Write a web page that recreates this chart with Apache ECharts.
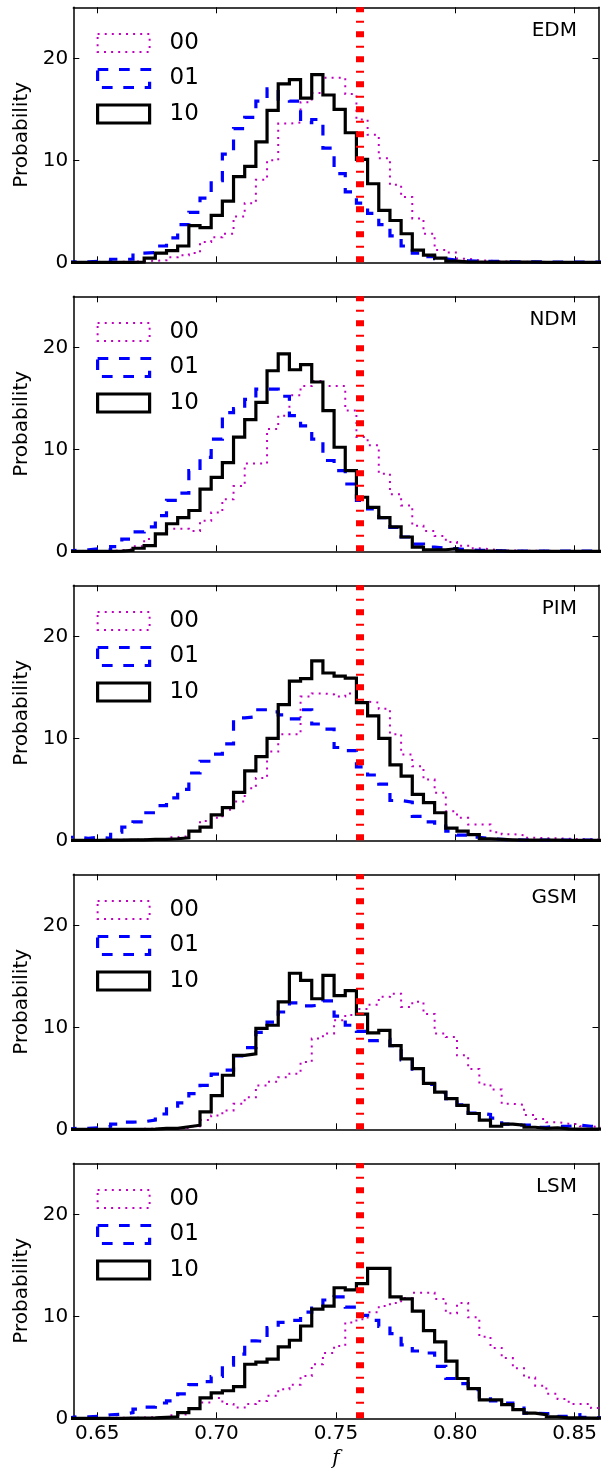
<!DOCTYPE html>
<html><head><meta charset="utf-8">
<script src="https://cdn.jsdelivr.net/npm/echarts@6.0.0/dist/echarts.min.js"></script>
<style>html,body{margin:0;padding:0;background:#fff}#c{width:607px;height:1473px}</style>
</head><body><div id="c"></div>
<script>
// ---- data ----
const PANELS = ['EDM', 'NDM', 'PIM', 'GSM', 'LSM'];
const SERIES_NAMES = ['00', '01', '10'];
const BIN_START = 0.63692;   // left edge of first histogram bin
const BIN_WIDTH = 0.00468;   // histogram bin width
const X_TICKS = [0.65, 0.70, 0.75, 0.80, 0.85];
const Y_TICKS = [0, 10, 20];
const REF_F = 0.76;

const EDM_00 = [0,0,0.02,0.02,0.05,0.05,0.1,0.15,0.2,0.5,0.7,0.9,2.0,2.45,2.8,4.5,5.8,8.1,10.0,13.6,13.7,15.7,16.6,18.1,18.1,16.5,14.0,12.5,10.2,7.6,6.4,4.3,2.8,1.2,0.95,0.35,0.2,0.15,0.1,0.05,0.05,0.03,0.03,0.03,0.02,0.02,0.02,0.02];
const EDM_01 = [0.05,0.05,0.1,0.1,0.3,0.3,0.9,0.95,1.6,2.4,3.7,4.9,6.3,8.0,10.6,13.1,14.2,15.8,17.0,16.0,15.8,13.7,14.0,11.2,8.7,6.9,5.8,4.8,3.7,2.6,1.6,0.9,0.55,0.35,0.2,0.15,0.1,0.1,0.08,0.05,0.05,0.05,0.03,0.02,0.02,0.02,0.02,0.02];
const EDM_10 = [0,0,0,0,0,0,0.03,0.4,0.9,1.15,1.6,3.6,3.4,4.6,6.0,8.4,9.4,11.8,14.9,17.5,17.9,16.1,18.4,16.4,15.0,12.7,10.1,7.7,5.1,4.1,2.8,1.2,0.7,0.4,0.12,0.05,0.03,0.02,0.02,0.02,0.02,0.02,0,0,0,0,0,0];

const NDM_00 = [0.02,0.02,0.02,0.02,0.1,0.2,0.5,1.2,1.7,2.2,2.2,2.0,3.0,3.8,5.1,6.4,8.6,8.6,12.0,13.3,15.3,16.2,16.7,16.2,16.2,13.8,11.2,10.4,7.6,5.6,4.5,2.5,2.0,1.5,0.9,0.55,0.3,0.2,0.1,0.08,0.05,0.05,0.05,0.03,0.03,0.03,0.03,0.03];
const NDM_01 = [0.1,0.15,0.25,0.15,0.45,1.2,1.9,2.4,3.5,5.0,5.7,7.9,9.2,11.0,13.6,14.0,14.9,15.9,15.9,15.2,13.3,12.3,11.0,8.9,7.9,6.6,5.0,4.15,3.3,2.35,1.4,0.7,0.4,0.3,0.25,0.15,0.1,0.08,0.05,0.03,0.03,0.03,0.02,0.02,0.02,0.02,0.02,0.02];
const NDM_10 = [0,0,0,0,0.02,0.1,0.3,0.55,1.7,2.7,3.3,4.0,6.1,7.25,8.7,11.2,12.9,14.6,17.7,19.35,17.8,18.3,16.6,13.8,10.2,7.9,5.3,4.3,3.3,2.4,1.4,0.4,0.15,0.15,0.25,0.05,0.02,0.02,0.02,0,0,0,0,0,0,0,0,0];

const PIM_00 = [0,0,0,0.03,0.05,0.05,0.08,0.1,0.1,0.3,0.4,0.9,1.9,2.2,3.0,3.8,5.1,6.1,8.7,10.4,10.4,14.1,14.4,14.3,14.1,14.4,13.6,13.5,12.9,10.4,8.4,7.25,5.95,4.65,2.85,2.2,1.55,1.55,0.8,0.6,0.5,0.25,0.2,0.2,0.15,0.1,0.1,0.05];
const PIM_01 = [0.3,0.2,0.3,0.2,0.8,1.3,1.8,2.7,3.4,4.15,5.0,6.6,7.75,8.45,9.45,12.0,12.1,12.8,12.6,12.3,11.9,12.8,11.4,10.9,9.1,8.8,7.2,6.4,5.5,3.9,3.75,2.35,1.8,1.4,0.9,0.5,0.3,0.15,0.1,0.05,0.03,0.03,0.03,0.02,0.02,0.02,0.02,0.02];
const PIM_10 = [0,0,0,0.02,0.02,0.05,0.05,0.1,0.1,0.15,0.25,0.9,1.3,2.5,3.2,4.7,6.8,8.2,10.0,13.3,15.6,15.85,17.6,16.4,16.1,15.9,13.5,12.2,10.0,7.4,6.3,4.5,3.7,2.7,1.2,0.9,0.55,0.15,0.1,0.05,0.02,0.02,0.02,0.02,0,0,0,0];

const GSM_00 = [0.02,0.02,0.02,0.02,0.03,0.03,0.05,0.05,0.05,0.05,0.1,0.3,0.9,1.35,1.85,2.5,3.15,4.3,4.65,5.1,5.45,6.6,8.9,9.4,10.7,11.2,11.8,12.2,13.0,13.3,12.0,12.5,11.3,9.4,9.05,7.25,5.9,4.4,3.9,2.5,2.4,1.4,1.0,0.7,0.55,0.5,0.3,0.2];
const GSM_01 = [0.1,0.1,0.15,0.3,0.5,0.7,0.75,0.9,1.5,2.0,2.6,3.5,4.3,5.4,5.8,7.2,8.0,9.5,10.5,11.5,12.4,12.1,12.2,12.6,11.1,10.2,9.6,8.7,8.8,8.2,6.8,5.9,4.4,3.6,3.0,2.4,1.6,1.45,1.1,0.5,0.4,0.4,0.2,0.3,0.3,0.4,0.3,0.2];
const GSM_10 = [0,0,0,0,0,0,0,0.02,0.1,0.1,0.25,0.4,1.7,3.3,5.3,7.25,7.4,9.9,10.2,12.5,15.3,14.6,12.8,15.1,13.1,13.6,11.3,9.45,9.7,8.2,6.9,5.95,4.5,3.65,3.0,2.35,1.55,0.9,0.3,0.5,0.4,0.2,0.1,0.15,0.05,0.02,0.02,0.02];

const LSM_00 = [0.02,0.02,0.03,0.05,0.05,0.05,0.08,0.1,0.1,0.3,0.4,0.9,1.55,2.0,1.4,1.05,1.4,1.7,2.2,2.85,3.3,4.15,5.3,6.4,7.1,9.4,9.7,10.4,11.0,11.3,11.8,12.3,12.3,11.7,10.3,11.3,9.9,8.0,6.9,5.9,4.9,4.0,3.2,2.4,1.9,1.4,1.4,1.0];
const LSM_01 = [0.15,0.15,0.2,0.35,0.4,0.55,0.9,1.1,1.5,1.7,2.4,3.3,3.6,4.1,5.2,6.3,7.6,7.5,8.9,9.4,9.6,10.4,10.8,11.6,11.9,10.9,10.1,9.6,9.0,8.3,7.2,6.6,6.4,5.1,3.9,3.4,2.8,2.1,1.7,1.5,1.0,0.5,0.45,0.5,0.2,0.35,0.1,0.05];
const LSM_10 = [0,0,0,0,0,0.02,0.03,0.05,0.1,0.15,0.55,0.95,2.0,2.5,2.7,3.1,5.3,5.5,5.8,7.0,7.65,9.05,10.7,11.0,12.8,12.6,13.2,14.7,14.7,11.9,11.7,10.5,8.6,7.5,5.6,3.9,2.9,1.8,1.8,1.35,0.85,0.5,0.35,0.15,0.05,0.05,0.03,0.02];

const PANEL_DATA = {
  EDM: [EDM_00, EDM_01, EDM_10],
  NDM: [NDM_00, NDM_01, NDM_10],
  PIM: [PIM_00, PIM_01, PIM_10],
  GSM: [GSM_00, GSM_01, GSM_10],
  LSM: [LSM_00, LSM_01, LSM_10]
};

// ---- styles / layout ----
const STYLE = {
  '00': { color: '#bf00bf', width: 2, type: [2, 5.1] },
  '01': { color: '#0000ff', width: 3.2, type: [10.7, 10.7] },
  '10': { color: '#000000', width: 3.2, type: 'solid' }
};
const FONT = 'DejaVu Sans';
const GRID_LEFT = 73.3, GRID_W = 525.2, GRID_TOP0 = 7.3, GRID_H = 255, PANEL_STEP = 289;

function stepPoints(counts) {
  const pts = [[BIN_START, 0]];
  counts.forEach((c, i) => {
    const x0 = BIN_START + i * BIN_WIDTH;
    pts.push([x0, c], [x0 + BIN_WIDTH, c]);
  });
  pts.push([BIN_START + counts.length * BIN_WIDTH, 0]);
  return pts;
}

const axisLine = { show: true, onZero: false, lineStyle: { color: '#000', width: 1.5 } };
const tickStyle = { color: '#000', width: 1 };

const grids = [], xAxes = [], yAxes = [], series = [], legends = [], titles = [];
PANELS.forEach((p, k) => {
  const top = GRID_TOP0 + PANEL_STEP * k;
  grids.push({ left: GRID_LEFT, top: top, width: GRID_W, height: GRID_H, containLabel: false, outerBoundsMode: 'none' });
  const last = k === PANELS.length - 1;
  xAxes.push({
    gridIndex: k, type: 'value', min: 0.64, max: 0.86, position: 'bottom',
    axisLine: axisLine,
    axisTick: { show: true, inside: true, length: 6, customValues: X_TICKS, lineStyle: tickStyle },
    axisLabel: { show: last, customValues: X_TICKS, formatter: v => v.toFixed(2), margin: 5,
      fontSize: 20, color: '#000', fontFamily: FONT },
    splitLine: { show: false },
    name: last ? 'f' : '', nameLocation: 'middle', nameGap: 30,
    nameTextStyle: { fontSize: 20, fontStyle: 'italic', fontFamily: 'DejaVu Serif', color: '#000' }
  });
  xAxes.push({
    gridIndex: k, type: 'value', min: 0.64, max: 0.86, position: 'top',
    axisLine: axisLine,
    axisTick: { show: true, inside: true, length: 6, customValues: X_TICKS, lineStyle: tickStyle },
    axisLabel: { show: false }, splitLine: { show: false }
  });
  yAxes.push({
    gridIndex: k, type: 'value', min: 0, max: 25, position: 'left',
    axisLine: axisLine,
    axisTick: { show: true, inside: true, length: 6, customValues: Y_TICKS, lineStyle: tickStyle },
    axisLabel: { show: true, customValues: Y_TICKS, formatter: v => String(v), margin: 5,
      fontSize: 20, color: '#000', fontFamily: FONT },
    splitLine: { show: false },
    name: 'Probability', nameLocation: 'middle', nameGap: 36, nameRotate: 90,
    nameTextStyle: { fontSize: 20, color: '#000', fontFamily: FONT }
  });
  yAxes.push({
    gridIndex: k, type: 'value', min: 0, max: 25, position: 'right',
    axisLine: axisLine,
    axisTick: { show: true, inside: true, length: 6, customValues: Y_TICKS, lineStyle: tickStyle },
    axisLabel: { show: false }, splitLine: { show: false }
  });
  const arrs = PANEL_DATA[p];
  SERIES_NAMES.forEach((n, j) => {
    const s = {
      name: n, type: 'line', xAxisIndex: 2 * k, yAxisIndex: 2 * k,
      data: stepPoints(arrs[j]), showSymbol: false, symbol: 'none', clip: true,
      lineStyle: { color: STYLE[n].color, width: STYLE[n].width, type: STYLE[n].type, join: 'miter', cap: 'butt' },
      itemStyle: { color: STYLE[n].color },
      z: 2 + j, silent: true
    };
    if (j === SERIES_NAMES.length - 1) {
      s.markLine = {
        silent: true, symbol: 'none', label: { show: false }, animation: false,
        lineStyle: { color: '#ff0000', width: 8, type: [6, 8.5, 2, 8.5], cap: 'butt' },
        data: [{ xAxis: REF_F }]
      };
    }
    series.push(s);
  });
  legends.push({
    orient: 'vertical', left: 96, top: 31 + PANEL_STEP * k, padding: 0, itemGap: 11.5,
    itemWidth: 52, itemHeight: 18, selectedMode: false, icon: 'rect',
    textStyle: { fontSize: 23, lineHeight: 24, color: '#000', fontFamily: FONT, padding: [0, 0, 0, 15] },
    data: SERIES_NAMES.map(n => ({
      name: n, icon: 'rect',
      itemStyle: { color: 'rgba(0,0,0,0)', borderColor: STYLE[n].color, borderWidth: STYLE[n].width, borderType: STYLE[n].type }
    }))
  });
  titles.push({
    text: p, right: 30, top: 21 + PANEL_STEP * k, padding: 0,
    textStyle: { fontSize: 20, fontWeight: 'normal', color: '#000', fontFamily: FONT }
  });
});

const chart = echarts.init(document.getElementById('c'), null, { renderer: 'canvas' });
chart.setOption({
  animation: false,
  backgroundColor: '#ffffff',
  textStyle: { fontFamily: FONT },
  title: titles,
  legend: legends,
  grid: grids,
  xAxis: xAxes,
  yAxis: yAxes,
  series: series
});
</script>
</body></html>
